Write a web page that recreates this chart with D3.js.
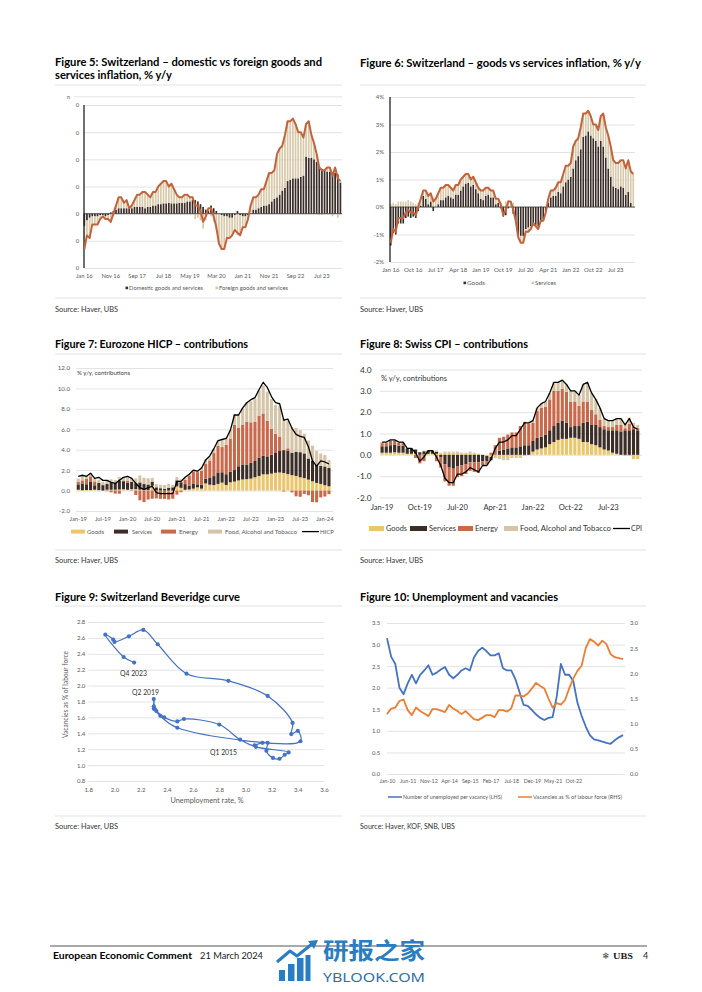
<!DOCTYPE html>
<html><head><meta charset="utf-8">
<script src="https://cdn.jsdelivr.net/npm/d3@7"></script>
<style>body{margin:0;background:#fff}</style>
</head><body>
<svg id="chart" width="702" height="992"></svg>
<script>
// ---------------- DATA ----------------
// Fig 5 & 6: Swiss CPI monthly Jan 2016 - Feb 2024
const swissCPI = [
-1.3,-0.8,-0.9,-0.4,-0.4,-0.4,-0.2,-0.1,-0.2,-0.2,-0.3,0.0,
0.3,0.6,0.6,0.4,0.5,0.2,0.3,0.5,0.7,0.7,0.8,0.8,
0.7,0.6,0.8,0.8,1.0,1.1,1.2,1.2,1.0,1.1,0.9,0.7,
0.6,0.6,0.7,0.7,0.6,0.6,0.3,0.3,0.1,-0.3,-0.1,0.2,
0.2,-0.1,-0.5,-1.1,-1.3,-1.3,-0.9,-0.9,-0.8,-0.6,-0.7,-0.8,
-0.5,-0.5,-0.2,0.3,0.6,0.6,0.7,0.9,0.9,1.2,1.5,1.5,
1.6,2.2,2.4,2.5,2.9,3.4,3.4,3.5,3.3,3.0,3.0,2.8,
3.3,3.4,2.9,2.6,2.2,1.7,1.6,1.6,1.7,1.7,1.4,1.7,
1.3,1.2];
const f5Domestic = [
-0.45,-0.25,-0.15,-0.1,-0.1,-0.1,-0.05,-0.05,-0.1,-0.05,0.05,0.1,
0.15,0.2,0.2,0.2,0.2,0.2,0.2,0.25,0.25,0.25,0.25,0.2,
0.25,0.25,0.3,0.3,0.35,0.35,0.38,0.38,0.4,0.38,0.38,0.38,
0.4,0.4,0.4,0.45,0.45,0.5,0.5,0.45,0.35,0.25,0.15,0.1,
0.3,0.2,0.1,0.0,-0.05,-0.1,-0.1,-0.15,-0.15,-0.05,0.1,-0.05,
-0.1,-0.1,-0.05,0.0,0.15,0.15,0.2,0.25,0.3,0.3,0.35,0.45,
0.55,0.6,0.7,0.85,0.95,1.2,1.25,1.3,1.3,1.3,1.35,1.4,
2.1,2.05,2.05,2.0,1.9,1.75,1.65,1.6,1.55,1.55,1.5,1.5,
1.45,1.15];
const f5Foreign = [
-0.85,-0.55,-0.75,-0.3,-0.3,-0.3,-0.15,-0.05,-0.1,-0.15,-0.35,-0.1,
0.15,0.4,0.4,0.2,0.3,0.0,0.1,0.25,0.45,0.45,0.55,0.6,
0.45,0.35,0.5,0.5,0.65,0.75,0.82,0.82,0.6,0.72,0.52,0.32,
0.2,0.2,0.3,0.25,0.15,0.1,-0.2,-0.15,-0.25,-0.55,-0.25,0.1,
-0.1,-0.3,-0.6,-1.1,-1.25,-1.2,-0.8,-0.75,-0.65,-0.55,-0.8,-0.75,
-0.4,-0.4,-0.15,0.3,0.45,0.45,0.5,0.65,0.6,0.9,1.15,1.05,
1.05,1.6,1.7,1.65,1.95,2.2,2.15,2.2,2.0,1.7,1.65,1.4,
1.2,1.35,0.85,0.6,0.3,-0.05,-0.05,0.0,0.15,0.15,-0.1,0.2,
-0.15,0.05];
const f5XLabels = ["Jan 16","Nov 16","Sep 17","Jul 18","May 19","Mar 20","Jan 21","Nov 21","Sep 22","Jul 23"];
const f5YTicks = [-2,-1,0,1,2,3,4];
const f5YLabels = ["0","0","0","0","0","0","0"];

const f6Goods = [
-1.4,-0.95,-1.0,-0.6,-0.6,-0.6,-0.4,-0.35,-0.4,-0.35,-0.4,-0.15,
0.05,0.4,0.3,0.1,0.2,-0.15,0.0,0.1,0.25,0.25,0.35,0.4,
0.35,0.3,0.45,0.45,0.6,0.75,0.85,0.88,0.75,0.8,0.65,0.5,
0.3,0.25,0.4,0.45,0.35,0.35,0.1,0.15,-0.05,-0.35,-0.3,-0.05,
0.0,-0.25,-0.5,-1.0,-1.05,-1.05,-0.8,-0.75,-0.7,-0.6,-0.65,-0.7,
-0.55,-0.45,-0.15,0.15,0.35,0.4,0.4,0.55,0.5,0.75,0.9,1.0,
1.1,1.4,1.7,1.85,2.1,2.55,2.6,2.75,2.6,2.5,2.4,2.2,
2.4,2.2,1.8,1.4,1.1,0.75,0.7,0.65,0.75,0.7,0.45,0.55,
0.15,0.0];
const f6Services = [
0.1,0.15,0.1,0.2,0.2,0.2,0.2,0.25,0.2,0.15,0.1,0.15,
0.25,0.2,0.3,0.3,0.3,0.35,0.3,0.4,0.45,0.45,0.45,0.4,
0.35,0.3,0.35,0.35,0.4,0.35,0.35,0.32,0.25,0.3,0.25,0.2,
0.3,0.35,0.3,0.25,0.25,0.25,0.2,0.15,0.15,0.05,0.2,0.25,
0.2,0.15,0.0,-0.1,-0.25,-0.25,-0.1,-0.15,-0.1,0.0,-0.05,-0.1,
0.05,-0.05,-0.05,0.15,0.25,0.2,0.3,0.35,0.4,0.45,0.6,0.5,
0.5,0.8,0.7,0.65,0.8,0.85,0.8,0.75,0.7,0.5,0.6,0.6,
0.9,1.2,1.1,1.2,1.1,0.95,0.9,0.95,0.95,1.0,0.95,1.15,
1.15,1.2];
const f6XLabels = ["Jan 16","Oct 16","Jul 17","Apr 18","Jan 19","Oct 19","Jul 20","Apr 21","Jan 22","Oct 22","Jul 23"];
const f6YTicks = [-2,-1,0,1,2,3,4];
const f6YLabels = ["-2%","-1%","0%","1%","2%","3%","4%"];

// Fig 7: Eurozone HICP contributions Jan 2019 - Feb 2024
const ezGoods = [
0.08,0.03,0.05,0.05,0.08,0.05,0.0,0.08,0.08,0.08,0.1,0.13,
0.08,0.14,0.14,0.08,0.05,0.05,0.46,-0.03,-0.03,-0.03,-0.08,-0.14,
0.41,0.27,0.08,0.11,0.19,0.32,0.19,0.7,0.57,0.54,0.65,0.78,
0.55,0.81,0.88,0.99,1.09,1.12,1.17,1.3,1.43,1.59,1.59,1.66,
1.74,1.77,1.72,1.61,1.51,1.43,1.3,1.22,1.07,0.91,0.75,0.65,
0.52,0.42];
const ezServices = [
0.53,0.62,0.57,0.84,0.44,0.7,0.53,0.57,0.66,0.66,0.84,0.79,
0.68,0.72,0.59,0.72,0.59,0.54,0.41,0.32,0.23,0.18,0.27,0.32,
0.59,0.55,0.55,0.38,0.46,0.29,0.38,0.46,0.71,0.88,1.13,1.01,
1.05,1.05,1.13,1.39,1.47,1.43,1.55,1.6,1.81,1.81,1.76,1.85,
1.94,2.11,2.24,2.29,2.2,2.38,2.46,2.42,2.07,2.02,1.76,1.76,
1.84,1.79];
const ezEnergy = [
0.26,0.35,0.51,0.51,0.37,0.02,0.05,-0.06,-0.17,-0.3,-0.31,0.02,
0.18,-0.03,-0.43,-0.95,-1.13,-0.88,-0.8,-0.74,-0.78,-0.79,-0.79,-0.66,
-0.4,-0.16,0.41,0.99,1.24,1.2,1.36,1.46,1.67,2.25,2.61,2.47,
2.88,3.2,4.43,3.75,3.91,4.2,3.96,3.86,4.1,4.15,3.49,2.55,
1.89,1.37,-0.09,0.24,-0.18,-0.56,-0.61,-0.33,-0.46,-1.12,-1.15,-0.67,
-0.58,-0.35];
const ezFood = [
0.3,0.44,0.32,0.29,0.3,0.3,0.27,0.4,0.36,0.3,0.38,0.38,
0.44,0.4,0.46,0.68,0.61,0.61,0.38,0.32,0.34,0.36,0.38,0.25,
0.32,0.27,0.23,0.15,0.13,0.11,0.34,0.42,0.4,0.4,0.46,0.67,
0.74,0.88,1.05,1.32,1.58,1.87,2.06,2.23,2.48,2.75,2.86,2.9,
2.82,3.0,3.1,2.7,2.5,2.32,2.16,1.94,1.76,1.48,1.38,1.22,
1.12,0.8];
const ezHICP = [
1.4,1.5,1.4,1.7,1.2,1.3,1.0,1.0,0.8,0.7,1.0,1.3,
1.4,1.2,0.7,0.3,0.1,0.3,0.4,-0.2,-0.3,-0.3,-0.3,-0.3,
0.9,0.9,1.3,1.6,2.0,1.9,2.2,3.0,3.4,4.1,4.9,5.0,
5.1,5.9,7.4,7.4,8.1,8.6,8.9,9.1,9.9,10.6,10.1,9.2,
8.6,8.5,6.9,7.0,6.1,5.5,5.3,5.2,4.3,2.9,2.4,2.9,
2.8,2.6];
const f7XLabels = ["Jan-19","Jul-19","Jan-20","Jul-20","Jan-21","Jul-21","Jan-22","Jul-22","Jan-23","Jul-23","Jan-24"];
const f7YTicks = [-2,0,2,4,6,8,10,12];
const f7YLabels = ["-2.0","0.0","2.0","4.0","6.0","8.0","10.0","12.0"];

// Fig 8: Swiss CPI contributions Jan 2019 - Feb 2024
const chGoods = [
0.1,0.1,0.1,0.12,0.1,0.1,0.05,0.05,0.05,0.0,0.02,0.05,
0.05,0.05,0.05,0.08,0.1,0.1,0.08,0.05,0.05,0.05,0.05,0.03,
0.0,-0.05,-0.1,-0.1,-0.15,-0.15,-0.15,-0.1,-0.1,-0.1,-0.05,0.0,
0.15,0.25,0.3,0.35,0.5,0.6,0.7,0.75,0.75,0.8,0.8,0.75,
0.6,0.6,0.5,0.45,0.35,0.25,0.2,0.1,0.05,0.0,-0.05,-0.05,
-0.2,-0.2];
const chServices = [
0.3,0.3,0.35,0.35,0.33,0.33,0.25,0.25,0.2,0.12,0.15,0.15,
0.15,0.1,-0.1,-0.45,-0.6,-0.65,-0.55,-0.5,-0.45,-0.35,-0.35,-0.35,
-0.3,-0.25,-0.15,0.0,0.2,0.25,0.3,0.35,0.35,0.4,0.45,0.45,
0.5,0.55,0.55,0.6,0.65,0.75,0.8,0.85,0.75,0.5,0.55,0.6,
0.9,0.95,0.9,0.95,0.95,0.95,0.95,1.05,1.1,1.1,1.15,1.15,
1.2,1.15];
const chEnergy = [
0.15,0.15,0.2,0.2,0.15,0.12,0.0,0.0,-0.15,-0.4,-0.3,0.0,
0.0,-0.3,-0.5,-0.8,-0.85,-0.8,-0.5,-0.5,-0.45,-0.4,-0.45,-0.5,
-0.2,-0.15,0.1,0.45,0.6,0.6,0.65,0.7,0.7,0.95,1.1,1.0,
0.85,1.25,1.35,1.3,1.45,1.65,1.5,1.5,1.45,1.2,1.15,0.95,
1.0,0.95,0.7,0.5,0.35,0.15,0.15,0.15,0.25,0.3,0.1,0.3,
0.1,0.1];
const chFood = [
0.05,0.05,0.05,0.03,0.02,0.05,0.0,0.0,0.0,-0.02,0.03,0.0,
0.0,0.05,0.05,0.07,0.05,0.05,0.07,0.05,0.05,0.1,0.05,0.02,
0.0,-0.05,-0.05,-0.05,-0.05,-0.1,-0.1,-0.05,-0.05,-0.05,0.0,0.05,
0.1,0.15,0.2,0.25,0.3,0.4,0.4,0.4,0.35,0.5,0.5,0.5,
0.8,0.9,0.8,0.7,0.55,0.35,0.3,0.3,0.3,0.3,0.2,0.3,
0.2,0.15];
const chCPI = swissCPI.slice(36);
const f8XLabels = ["Jan-19","Oct-19","Jul-20","Apr-21","Jan-22","Oct-22","Jul-23"];
const f8YTicks = [-2,-1,0,1,2,3,4];
const f8YLabels = ["-2.0","-1.0","0.0","1.0","2.0","3.0","4.0"];

// Fig 9: Beveridge curve, Q1 2015 - Q4 2023
const bevUnemp = [3.07,3.13,3.17,3.16,3.21,3.26,3.30,3.33,3.08,2.96,2.80,2.53,2.48,2.38,2.32,2.30,2.30,2.30,2.31,2.35,2.48,3.42,3.40,3.35,3.36,3.17,2.87,2.55,2.33,2.22,2.11,2.00,1.99,1.93,2.07,2.15];
const bevVac   = [1.25,1.28,1.28,1.18,1.09,1.08,1.13,1.16,1.23,1.32,1.51,1.58,1.55,1.60,1.68,1.71,1.74,1.83,1.70,1.62,1.47,1.30,1.43,1.39,1.53,1.87,2.06,2.15,2.52,2.70,2.62,2.55,2.58,2.64,2.36,2.29];
const f9XTicks = [1.8,2.0,2.2,2.4,2.6,2.8,3.0,3.2,3.4,3.6];
const f9XLabels = ["1.8","2.0","2.2","2.4","2.6","2.8","3.0","3.2","3.4","3.6"];
const f9YTicks = [0.8,1.0,1.2,1.4,1.6,1.8,2.0,2.2,2.4,2.6,2.8];
const f9YLabels = ["0.8","1.0","1.2","1.4","1.6","1.8","2.0","2.2","2.4","2.6","2.8"];

// Fig 10: Unemployment and vacancies
const unempPerVac = [3.15,2.72,2.55,2.0,1.85,2.1,2.3,2.1,2.3,2.4,2.52,2.3,2.35,2.42,2.48,2.3,2.22,2.3,2.4,2.45,2.4,2.7,2.85,2.93,2.85,2.75,2.75,2.8,2.45,2.4,2.4,2.2,1.9,1.6,1.58,1.48,1.38,1.3,1.25,1.3,1.32,1.8,2.55,2.3,2.3,2.15,1.65,1.35,1.1,0.9,0.8,0.78,0.75,0.72,0.7,0.78,0.85,0.9];
const vacPct = [1.19,1.3,1.32,1.45,1.48,1.27,1.17,1.32,1.25,1.2,1.15,1.29,1.29,1.26,1.23,1.37,1.3,1.25,1.19,1.25,1.17,1.09,1.07,1.12,1.17,1.17,1.13,1.27,1.27,1.24,1.3,1.56,1.56,1.54,1.6,1.7,1.81,1.75,1.7,1.5,1.32,1.41,1.38,1.47,1.7,1.9,2.05,2.15,2.5,2.68,2.63,2.55,2.65,2.58,2.38,2.32,2.3,2.28];
const f10XTicks = [0,5,10,15,20,25,30,35,40,45];
const f10XLabels = ["Jan-10","Jun-11","Nov-12","Apr-14","Sep-15","Feb-17","Jul-18","Dec-19","May-21","Oct-22"];
const f10YLTicks = [0,0.5,1,1.5,2,2.5,3,3.5];
const f10YLLabels = ["0.0","0.5","1.0","1.5","2.0","2.5","3.0","3.5"];
const f10YRTicks = [0,0.5,1,1.5,2,2.5,3];
const f10YRLabels = ["0.0","0.5","1.0","1.5","2.0","2.5","3.0"];

// ---------------- DRAWING ----------------
const svg = d3.select('#chart');
const FONT = "Lato, 'Open Sans', 'Noto Sans', sans-serif";
const GRID = '#d9d9d9', TICK = '#595959';
const C = {dark:'#3b2d27', beige:'#d8c9aa', rust:'#c3633c',
  goods:'#ebc66c', serv:'#3c2e26', energy:'#c8694b', food:'#d6c4a7'};

function T(x,y,s,o){o=o||{};
  const t=svg.append('text').attr('x',x).attr('y',y).text(s)
    .attr('font-family',o.family||FONT).attr('font-size',o.size||8)
    .attr('fill',o.fill||'#000').attr('font-weight',o.weight||400)
    .attr('text-anchor',o.anchor||'start');
  if(o.w) t.attr('textLength',o.w).attr('lengthAdjust','spacingAndGlyphs');
  if(o.rot) t.attr('transform',`rotate(${o.rot},${x},${y})`);
  return t;}
function L(x1,y1,x2,y2,c,w){svg.append('line').attr('x1',x1).attr('y1',y1).attr('x2',x2).attr('y2',y2).attr('stroke',c).attr('stroke-width',w);}
function R(x,y,w,h,c){svg.append('rect').attr('x',x).attr('y',y).attr('width',w).attr('height',h).attr('fill',c);}

function yGrid(y,ticks,labels,x0,x1,fs,pad,col){
  const g=svg.append('g').attr('transform',`translate(${x0},0)`)
    .call(d3.axisLeft(y).tickValues(ticks).tickFormat((d,i)=>labels[i]).tickSize(-(x1-x0)).tickPadding(pad));
  g.attr('font-family',FONT).attr('font-size',fs);
  g.select('.domain').remove();
  g.selectAll('.tick line').attr('stroke',GRID).attr('stroke-width',0.75);
  g.selectAll('.tick text').attr('fill',col||TICK);
  return g;}
function yRight(y,ticks,labels,x0,fs,pad,col){
  const g=svg.append('g').attr('transform',`translate(${x0},0)`)
    .call(d3.axisRight(y).tickValues(ticks).tickFormat((d,i)=>labels[i]).tickSize(0).tickPadding(pad));
  g.attr('font-family',FONT).attr('font-size',fs);
  g.select('.domain').remove();
  g.selectAll('.tick text').attr('fill',col||TICK);}
function xLabels(x,ticks,labels,yb,fs,col){
  const g=svg.append('g').attr('transform',`translate(0,${yb})`)
    .call(d3.axisBottom(x).tickValues(ticks).tickFormat((d,i)=>labels[i]).tickSize(0).tickPadding(0));
  g.attr('font-family',FONT).attr('font-size',fs);
  g.select('.domain').remove();
  g.selectAll('.tick line').remove();
  g.selectAll('.tick text').attr('fill',col||TICK).attr('y',0).attr('dy',0);}
function stackBars(x,y,series,colors){
  const keys=series.map((s,k)=>'k'+k);
  const rows=d3.range(series[0].length).map(i=>{const o={};series.forEach((s,k)=>o['k'+k]=s[i]);return o;});
  const st=d3.stack().keys(keys).offset(d3.stackOffsetDiverging)(rows);
  st.forEach((layer,k)=>{
    svg.append('g').attr('fill',colors[k]).selectAll('rect').data(layer).join('rect')
      .attr('x',(d,i)=>x(i)).attr('width',x.bandwidth())
      .attr('y',d=>y(Math.max(d[0],d[1]))).attr('height',d=>Math.abs(y(d[0])-y(d[1])));
  });}
function lineOn(x,y,arr,col,w){
  svg.append('path').datum(arr).attr('fill','none').attr('stroke',col).attr('stroke-width',w)
    .attr('stroke-linejoin','round')
    .attr('d',d3.line().x((d,i)=>x(i)+x.bandwidth()/2).y(d=>y(d)));}
function band(n,x0,step,pad){return d3.scaleBand().domain(d3.range(n)).range([x0,x0+n*step]).paddingInner(pad).paddingOuter(pad/2);}

// ---- separators, titles, sources ----
[85,298,354,550,606,816].forEach(yy=>{L(55,yy,342,yy,'#dcdcdc',0.8);L(360,yy,646,yy,'#dcdcdc',0.8);});
const TS=10.5;
T(55,66,"Figure 5: Switzerland – domestic vs foreign goods and",{size:TS,weight:700,w:267});
T(55,79,"services inflation, % y/y",{size:TS,weight:700,w:117});
T(360,67,"Figure 6: Switzerland – goods vs services inflation, % y/y",{size:TS,weight:700,w:281});
T(55,348,"Figure 7: Eurozone HICP – contributions",{size:TS,weight:700,w:193});
T(360,348,"Figure 8: Swiss CPI – contributions",{size:TS,weight:700,w:168});
T(55,601,"Figure 9: Switzerland Beveridge curve",{size:TS,weight:700,w:185});
T(360,601,"Figure 10: Unemployment and vacancies",{size:TS,weight:700,w:198});
const SS=8, SC='#333';
T(55,312,"Source: Haver, UBS",{size:SS,fill:SC,w:63});
T(360,312,"Source: Haver, UBS",{size:SS,fill:SC,w:63});
T(55,563,"Source: Haver, UBS",{size:SS,fill:SC,w:63});
T(360,563,"Source: Haver, UBS",{size:SS,fill:SC,w:63});
T(55,829,"Source: Haver, UBS",{size:SS,fill:SC,w:63});
T(360,829,"Source: Haver, KOF, SNB, UBS",{size:SS,fill:SC,w:95});

// ---- Figure 5 ----
{
  const x=band(swissCPI.length,83,2.64,0.35);
  const y=d3.scaleLinear().domain([-2,4]).range([268,105]);
  yGrid(y,f5YTicks,f5YLabels,84,342,5.8,5);
  L(74,y(4.3),342,y(4.3),GRID,0.75);
  T(67,y(4.3)+2,"n",{size:5.5,fill:TICK});
  stackBars(x,y,[f5Domestic,f5Foreign],[C.dark,C.beige]);
  L(84,y(0),342,y(0),'#3a3a3a',0.8);
  L(84,y(4),84,y(-2),'#222',1.3);
  lineOn(x,y,swissCPI,C.rust,2);
  xLabels(x,[0,10,20,30,40,50,60,70,80,90],f5XLabels,278,5.8);
  R(125.5,286.6,2.6,2.6,C.dark); T(129,290.2,"Domestic goods and services",{size:5.4,fill:TICK,w:74});
  R(215.5,286.6,2.6,2.6,C.beige); T(219,290.2,"Foreign goods and services",{size:5.4,fill:TICK,w:69});
}
// ---- Figure 6 ----
{
  const x=band(swissCPI.length,389.5,2.5,0.35);
  const y=d3.scaleLinear().domain([-2,4]).range([262,97]);
  yGrid(y,f6YTicks,f6YLabels,390,635,6,6);
  stackBars(x,y,[f6Goods,f6Services],[C.dark,C.beige]);
  L(390,y(0),635,y(0),'#3a3a3a',0.8);
  L(390,y(4),390,y(-2),'#222',1.3);
  lineOn(x,y,swissCPI,C.rust,2);
  xLabels(x,[0,9,18,27,36,45,54,63,72,81,90],f6XLabels,272,6);
  R(463.5,281.6,2.6,2.6,C.dark); T(467,285.2,"Goods",{size:5.6,fill:TICK,w:18});
  R(531.5,281.6,2.6,2.6,C.beige); T(535,285.2,"Services",{size:5.6,fill:TICK,w:21});
}
// ---- Figure 7 ----
{
  const x=band(ezHICP.length,76.2,4.11,0.25);
  const y=d3.scaleLinear().domain([-2,12]).range([511,368]);
  yGrid(y,f7YTicks,f7YLabels,76,333,6.2,6);
  stackBars(x,y,[ezGoods,ezServices,ezEnergy,ezFood],[C.goods,C.serv,C.energy,C.food]);
  lineOn(x,y,ezHICP,'#000',1.3);
  T(77,375,"% y/y, contributions",{size:5.5,fill:'#404040',w:53});
  xLabels(x,[0,6,12,18,24,30,36,42,48,54,60],f7XLabels,520.5,5.8);
  const ly=533.5, fs=6;
  R(71,529.6,14,4,C.goods); T(87,ly,"Goods",{size:fs,fill:TICK,w:17});
  R(114,529.6,14,4,C.serv); T(132,ly,"Services",{size:fs,fill:TICK,w:20});
  R(161,529.6,15,4,C.energy); T(179,ly,"Energy",{size:fs,fill:TICK,w:19});
  R(208,529.6,14,4,C.food); T(225,ly,"Food, Alcohol and Tobacco",{size:fs,fill:TICK,w:72});
  L(302,531.6,319,531.6,'#000',1.3); T(320,ly,"HICP",{size:fs,fill:TICK,w:14});
}
// ---- Figure 8 ----
{
  const x=band(chCPI.length,380,4.19,0.25);
  const y=d3.scaleLinear().domain([-2,4]).range([497.5,369.5]);
  yGrid(y,f8YTicks,f8YLabels,380,642,8.3,8.5,'#333');
  stackBars(x,y,[chGoods,chServices,chEnergy,chFood],[C.goods,C.serv,C.energy,C.food]);
  lineOn(x,y,chCPI,'#000',1.3);
  T(381,380.5,"% y/y, contributions",{size:7.5,fill:'#333',w:66});
  xLabels(x,[0,9,18,27,36,45,54],f8XLabels,509.5,7.6,'#333');
  const ly=531, fs=8;
  R(369,526,15,5,C.goods); T(386,ly,"Goods",{size:fs,fill:'#333',w:21});
  R(410,526,17,5,C.serv); T(429,ly,"Services",{size:fs,fill:'#333',w:27});
  R(458,526,15,5,C.energy); T(475,ly,"Energy",{size:fs,fill:'#333',w:23});
  R(504,526,14,5,C.food); T(520,ly,"Food, Alcohol and Tobacco",{size:fs,fill:'#333',w:91});
  L(613,528.5,630,528.5,'#000',1.3); T(631,ly,"CPI",{size:fs,fill:'#333',w:11});
}
// ---- Figure 9 ----
{
  const x=d3.scaleLinear().domain([1.8,3.6]).range([88.3,324]);
  const y=d3.scaleLinear().domain([0.8,2.8]).range([781,622]);
  yGrid(y,f9YTicks,f9YLabels,88.3,324,6,3);
  const g=svg.append('g').attr('transform','translate(0,792)')
    .call(d3.axisBottom(x).tickValues(f9XTicks).tickFormat((d,i)=>f9XLabels[i]).tickSize(0).tickPadding(0));
  g.attr('font-family',FONT).attr('font-size',6); g.select('.domain').remove();
  g.selectAll('.tick text').attr('fill',TICK).attr('y',0).attr('dy',0);
  const pts=bevUnemp.map((u,i)=>[u,bevVac[i]]);
  svg.append('path').datum(pts).attr('fill','none').attr('stroke','#4472c4').attr('stroke-width',1.2)
    .attr('d',d3.line().x(d=>x(d[0])).y(d=>y(d[1])).curve(d3.curveCatmullRom.alpha(0.5)));
  svg.append('g').attr('fill','#4472c4').selectAll('circle').data(pts).join('circle')
    .attr('cx',d=>x(d[0])).attr('cy',d=>y(d[1])).attr('r',2.1);
  T(120,675.5,"Q4 2023",{size:6.8,fill:'#333',w:27});
  T(132,694.5,"Q2 2019",{size:6.8,fill:'#333',w:27});
  T(210,754.5,"Q1 2015",{size:6.8,fill:'#333',w:27});
  T(207,802.5,"Unemployment rate, %",{size:7,fill:TICK,anchor:'middle',w:73});
  T(67.5,694.5,"Vacancies as % of labour force",{size:7,fill:TICK,anchor:'middle',rot:-90,w:87});
}
// ---- Figure 10 ----
{
  const x=d3.scalePoint().domain(d3.range(unempPerVac.length)).range([387,623]);
  const yL=d3.scaleLinear().domain([0,3.5]).range([774,623]);
  const yR=d3.scaleLinear().domain([0,3]).range([774,623]);
  yGrid(yL,f10YLTicks,f10YLLabels,387,625,5.8,7);
  yRight(yR,f10YRTicks,f10YRLabels,625,5.8,5);
  const g=svg.append('g').attr('transform','translate(0,783)')
    .call(d3.axisBottom(x).tickValues(f10XTicks).tickFormat((d,i)=>f10XLabels[i]).tickSize(0).tickPadding(0));
  g.attr('font-family',FONT).attr('font-size',5.3); g.select('.domain').remove();
  g.selectAll('.tick text').attr('fill',TICK).attr('y',0).attr('dy',0);
  svg.append('path').datum(unempPerVac).attr('fill','none').attr('stroke','#4472c4').attr('stroke-width',1.8)
    .attr('stroke-linejoin','round').attr('d',d3.line().x((d,i)=>x(i)).y(d=>yL(d)));
  svg.append('path').datum(vacPct).attr('fill','none').attr('stroke','#ed7d31').attr('stroke-width',1.8)
    .attr('stroke-linejoin','round').attr('d',d3.line().x((d,i)=>x(i)).y(d=>yR(d)));
  L(388,797,402,797,'#4472c4',1.5); T(403,799,"Number of unemployed per vacancy (LHS)",{size:5.3,fill:TICK,w:99});
  L(518,797,532,797,'#ed7d31',1.5); T(533,799,"Vacancies as % of labour force (RHS)",{size:5.3,fill:TICK,w:89});
}
// ---- Footer ----
L(50,946,647,946,'#555',1);
T(53,959,"European Economic Comment",{size:9,weight:700,w:139});
T(200,959,"21 March 2024",{size:9,fill:'#222',w:63});
T(602,959,"❄",{size:9,family:"'DejaVu Sans'",fill:'#333'});
T(613,959,"UBS",{size:9,weight:700,family:"'Liberation Serif', serif",fill:'#222',w:20});
T(643,959,"4",{size:9,fill:'#222'});
// watermark
const WM='#2a7dc2';
[[279,970,6,11],[288,964,6.5,17],[297,958,6.5,23],[305.5,955,5,26]].forEach(b=>R(b[0],b[1],b[2],b[3],WM));
svg.append('path').attr('d','M277,962 L290,951 L297,956 L312,944').attr('fill','none').attr('stroke',WM).attr('stroke-width',3).attr('stroke-linejoin','round');
svg.append('path').attr('d','M308,941 L318,940 L314,949 Z').attr('fill',WM);
T(323,958.5,"研报之家",{size:22.5,weight:700,family:"'Noto Sans CJK SC'",fill:WM,w:102});
T(323,982,"YBLOOK.COM",{size:13,family:"'Noto Sans'",fill:'#2f6fae',w:102});
</script>
</body></html>
